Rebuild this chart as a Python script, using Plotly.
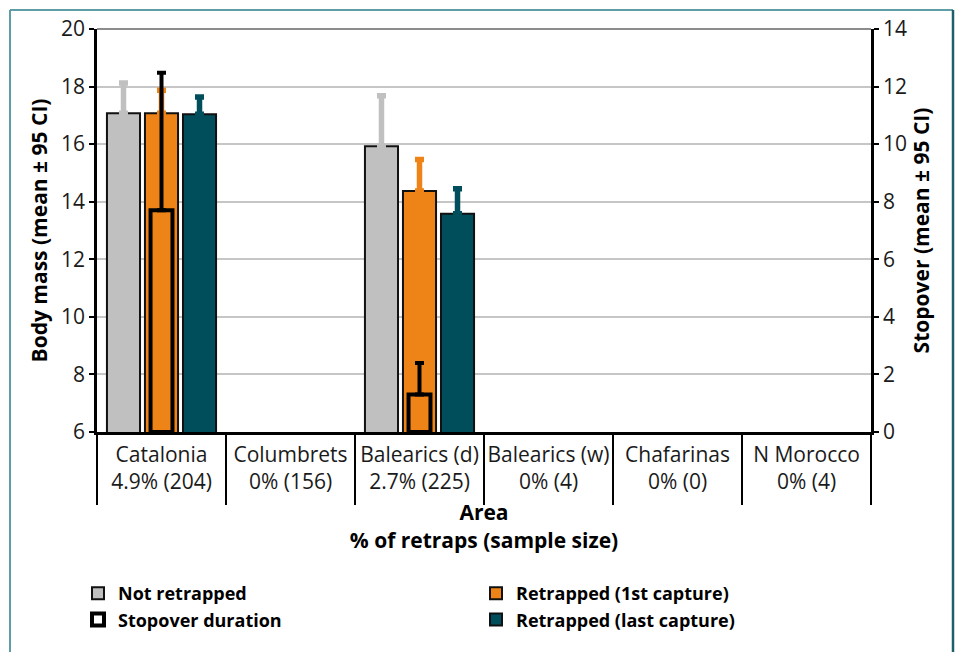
import plotly.graph_objects as go

# Study areas and the share of retrapped birds (sample size) per area
areas = ["Catalonia", "Columbrets", "Balearics (d)", "Balearics (w)", "Chafarinas", "N Morocco"]
retraps = ["4.9% (204)", "0% (156)", "2.7% (225)", "0% (4)", "0% (0)", "0% (4)"]
categories = [f"{a}<br>{r}" for a, r in zip(areas, retraps)]

# Body mass (g): mean and upper 95% CI half-width
mass_not_retrapped = [17.07, None, 15.93, None, None, None]
mass_not_retrapped_ci = [1.05, 0, 1.75, 0, 0, 0]
mass_first_capture = [17.07, None, 14.37, None, None, None]
mass_first_capture_ci = [0.80, 0, 1.10, 0, 0, 0]
mass_last_capture = [17.04, None, 13.58, None, None, None]
mass_last_capture_ci = [0.60, 0, 0.87, 0, 0, 0]

# Stopover duration (days): mean and upper 95% CI half-width
stopover = [7.70, None, 1.30, None, None, None]
stopover_ci = [4.78, 0, 1.10, 0, 0, 0]

GREY = "#c0c0c0"
ORANGE = "#ee8417"
TEAL = "#004e5b"
FONT = "Open Sans"

W, H = 955, 652
ML, MR, MT, MB = 97, 84, 29, 220
PW, PH = W - ML - MR, H - MT - MB


def px_x(px):
    return (px - ML) / PW


def px_y(py):
    return (H - MB - py) / PH


def upper_only(ci, color, thickness=5.5, width=4.5):
    return dict(type="data", symmetric=False, array=ci, arrayminus=[0] * len(ci),
                color=color, thickness=thickness, width=width)


fig = go.Figure()

fig.add_trace(go.Bar(
    x=categories, y=mass_not_retrapped, name="Not retrapped",
    marker=dict(color=GREY, line=dict(color="#111111", width=2)),
    error_y=upper_only(mass_not_retrapped_ci, GREY), legend="legend",
))
fig.add_trace(go.Bar(
    x=categories, y=mass_first_capture, name="Retrapped (1st capture)",
    marker=dict(color=ORANGE, line=dict(color="#111111", width=2)),
    error_y=upper_only(mass_first_capture_ci, ORANGE), legend="legend2",
))
fig.add_trace(go.Bar(
    x=categories, y=mass_last_capture, name="Retrapped (last capture)",
    marker=dict(color=TEAL, line=dict(color="#111111", width=2)),
    error_y=upper_only(mass_last_capture_ci, TEAL), legend="legend2",
))
fig.add_trace(go.Bar(
    x=categories, y=stopover, name="Stopover duration", yaxis="y2", width=0.17,
    marker=dict(color="rgba(0,0,0,0)", line=dict(color="#000000", width=4)),
    error_y=upper_only(stopover_ci, "#000000", thickness=4, width=4.5), legend="legend",
))

tick_font = dict(family=FONT, size=21, color="#1a1a1a")
title_font = dict(family=FONT, size=21, color="#000000", weight="bold")
legend_font = dict(family=FONT, size=18, color="#000000", weight="bold")

fig.update_layout(
    width=W, height=H,
    margin=dict(l=ML, r=MR, t=MT, b=MB, pad=0),
    paper_bgcolor="white", plot_bgcolor="white",
    barmode="group", bargap=0.116, bargroupgap=0.13,
    xaxis=dict(
        type="category", range=[-0.5, len(categories) - 0.5],
        showline=True, linecolor="#000000", linewidth=2.5,
        ticks="outside", tickson="boundaries", ticklen=70, tickwidth=2, tickcolor="#000000",
        tickangle=0, ticklabelstandoff=2, tickfont=tick_font, showgrid=False,
        title=dict(text="Area<br>% of retraps (sample size)", font=title_font, standoff=12),
    ),
    yaxis=dict(
        range=[6, 20], dtick=2, showline=True, linecolor="#000000", linewidth=2.5,
        ticks="outside", ticklen=5, tickwidth=2, tickcolor="#000000", tickfont=tick_font,
        showgrid=True, gridcolor="#c6c6c6", gridwidth=1.5, zeroline=False,
        title=dict(text="Body mass (mean ± 95 CI)", font=title_font, standoff=8),
    ),
    yaxis2=dict(
        range=[0, 14], dtick=2, overlaying="y", side="right",
        showline=True, linecolor="#000000", linewidth=2.5,
        ticks="outside", ticklen=5, tickwidth=2, tickcolor="#000000", tickfont=tick_font,
        showgrid=False, zeroline=False,
        title=dict(text="Stopover (mean ± 95 CI)", font=title_font, standoff=5),
    ),
    legend=dict(
        x=px_x(78), y=px_y(575), xanchor="left", yanchor="top",
        orientation="v", font=legend_font, bgcolor="rgba(0,0,0,0)",
        traceorder="normal",
    ),
    legend2=dict(
        x=px_x(476), y=px_y(575), xanchor="left", yanchor="top",
        orientation="v", font=legend_font, bgcolor="rgba(0,0,0,0)",
        traceorder="normal",
    ),
    showlegend=True,
    shapes=[
        # darker rule along the top of the plot area
        dict(type="line", xref="paper", yref="paper", x0=0, x1=1, y0=1, y1=1,
             line=dict(color="#8c8c8c", width=2)),
        # outer frame
        dict(type="line", xref="paper", yref="paper", x0=px_x(10), x1=px_x(953),
             y0=px_y(10), y1=px_y(10), line=dict(color="#5f9ea6", width=2)),
        dict(type="line", xref="paper", yref="paper", x0=px_x(10), x1=px_x(10),
             y0=px_y(10), y1=px_y(660), line=dict(color="#5f9ea6", width=2)),
        dict(type="line", xref="paper", yref="paper", x0=px_x(953), x1=px_x(953),
             y0=px_y(10), y1=px_y(660), line=dict(color="#1d5f6a", width=2.5)),
    ],
)

fig.write_html("out.html")
